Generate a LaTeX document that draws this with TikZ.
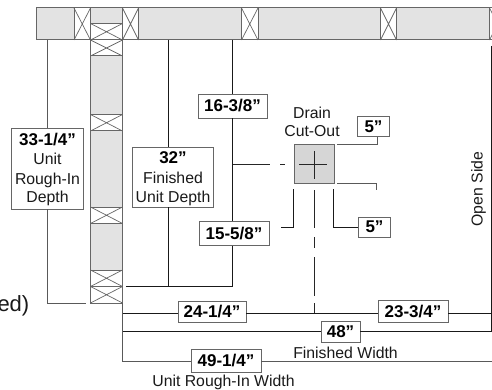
\documentclass[tikz,border=0pt]{standalone}
\usepackage{fontspec}
\setmainfont{Liberation Sans}
\tikzset{
  x=1pt,y=-1pt,
  wall/.style={draw=black!60,fill=black!11,line width=1pt},
  stud/.style={draw=black!60,fill=white,line width=1pt},
  xline/.style={draw=black!60,line width=.7pt},
  dim/.style={draw=black!90,line width=.9pt},
  dimg/.style={draw=black!65,line width=.9pt},
  thin dim/.style={draw=black!85,line width=.7pt},
  lab/.style={draw=black!60,fill=white,line width=.9pt,inner sep=0pt,align=center},
  big/.style={font=\fontsize{17}{18}\selectfont\bfseries},
  txt/.style={font=\fontsize{15.8}{18}\selectfont,inner sep=0pt,text=black!90,anchor=base},
}
\newcommand{\studbox}[4]{%
  \draw[stud] (#1,#2) rectangle (#3,#4);
  \draw[xline] (#1,#2) -- (#3,#4) (#1,#4) -- (#3,#2);}
\begin{document}
\begin{tikzpicture}
\useasboundingbox (0,0) rectangle (492,390);
% walls
\draw[wall] (36,8) rectangle (500,40);
\draw[wall] (90.5,8) rectangle (122.5,303);
\draw[wall] (36,8) -- (500,8);
\studbox{74}{8}{90.5}{40}
\studbox{122.5}{8}{138.5}{40}
\studbox{241.5}{8}{258}{40}
\studbox{380.5}{8}{396.5}{40}
\studbox{489.5}{8}{506}{40}
\studbox{90.5}{23.5}{122.5}{40}
\studbox{90.5}{40}{122.5}{56}
\studbox{90.5}{114.5}{122.5}{131}
\studbox{90.5}{207}{122.5}{223.5}
\studbox{90.5}{270}{122.5}{286.5}
\studbox{90.5}{286.5}{122.5}{303}
% labels
\node[lab,minimum width=72.5pt,minimum height=81pt] (rough) at (47.2,168.5) {};
\node[big,inner sep=0pt,anchor=base] (r0) at (47.5,145.7) {33-1/4”};
\node[txt] (r1) at (47.5,164.5) {Unit};
\node[txt] (r2) at (47.5,184.3) {Rough-In};
\node[txt] (r3) at (47.5,202.7) {Depth};
\node[lab,minimum width=81pt,minimum height=60pt] (fin) at (173,177) {};
\node[big,inner sep=0pt,anchor=base] (f0) at (173,163.3) {32”};
\node[txt] (f1) at (173,183.3) {Finished};
\node[txt] (f2) at (173,202.7) {Unit Depth};
\node[lab,big,minimum width=69pt,minimum height=24pt] (a) at (232.5,106) {16-3/8”};
\node[lab,big,minimum width=70pt,minimum height=23.5pt] (b) at (234,233.5) {15-5/8”};
\node[lab,big,minimum width=32pt,minimum height=20pt] (c) at (373.5,126.5) {5”};
\node[lab,big,minimum width=31.5pt,minimum height=20pt] (d) at (374.5,227) {5”};
\node[lab,big,minimum width=68pt,minimum height=21pt] (e) at (212,312) {24-1/4”};
\node[lab,big,minimum width=70pt,minimum height=21.5pt] (f) at (413,311.5) {23-3/4”};
\node[lab,big,minimum width=39pt,minimum height=21pt] (g) at (340.5,331.5) {48”};
\node[lab,big,minimum width=70pt,minimum height=23pt] (h) at (226,360.5) {49-1/4”};
% drain
\node[draw=black!60,fill=black!16,line width=1pt,minimum width=40pt,minimum height=39.5pt,inner sep=0pt] (drain) at (314,164) {};
\draw[thin dim] (299,164) -- (327,164) (314.5,151) -- (314.5,179);
\node[txt] (dr1) at (312,118.3) {Drain};
\node[txt] (dr2) at (312,137) {Cut-Out};
% connectors
\coordinate (w1) at (47.2,40);
\coordinate (w2) at (168.5,40);
\coordinate (w3) at (232.5,40);
\coordinate (yE) at (0,313.3);
\coordinate (yG) at (0,331.3);
\coordinate (yH) at (0,361.5);
\coordinate (yD) at (0,227.3);
\draw[dimg] (w1) -- (rough.north -| w1);
\draw[dimg] (rough.south -| w1) -- (47.2,303) -- (86,303);
\draw[dim] (w2) -- (fin.north -| w2);
\draw[dim] (fin.south -| w2) -- (168.5,286.3);
\draw[dim] (w3) -- (a.north -| w3);
\draw[dim] (a.south -| w3) -- (b.north -| w3);
\draw[dim] (b.south -| w3) -- (232.5,286.3) -- (126,286.3);
\draw[thin dim] (232.5,164) -- (270,164) (280,164) -- (285,164);
\draw[dim] (293.5,189) -- (293.5,227.3) -- (281,227.3);
\draw[dim] (333.5,189) -- (333.5,227.3) -- (d.west |- yD);
\draw[thin dim] (314.5,190) -- (314.5,228) (314.5,237) -- (314.5,248) (314.5,257) -- (314.5,296) (314.5,303) -- (314.5,314);
\draw[dimg,line width=.7pt] (337,144.7) -- (377,144.7) -- (c.south -| 377,0);
\draw[dimg] (337,183.7) -- (376.7,183.7);
\draw[dimg,line width=.7pt] (376.7,183.7) -- (376.7,190);
\draw[dim] (491,46) -- (491,331);
\draw[dim] (122.5,313.3) -- (e.west |- yE);
\draw[dim] (e.east |- yE) -- (f.west |- yE);
\draw[dim] (f.east |- yE) -- (491,313.3);
\draw[dim] (122.5,331.3) -- (g.west |- yG);
\draw[dim] (g.east |- yG) -- (492,331.3);
\draw[dimg] (122.5,303) -- (122.5,361.5) -- (h.west |- yH);
\draw[dimg] (h.east |- yH) -- (492,361.5);
% free text
\node[txt,rotate=90,anchor=center] (open) at (478.5,189) {Open Side};
\node[txt] (fw) at (345.5,358) {Finished Width};
\node[txt] (ur) at (223.5,386.5) {Unit Rough-In Width};
\node[font=\fontsize{22}{24}\selectfont,inner sep=0pt,anchor=base east,text=black!90] (ed) at (29.5,311) {ed)};
\end{tikzpicture}
\end{document}
